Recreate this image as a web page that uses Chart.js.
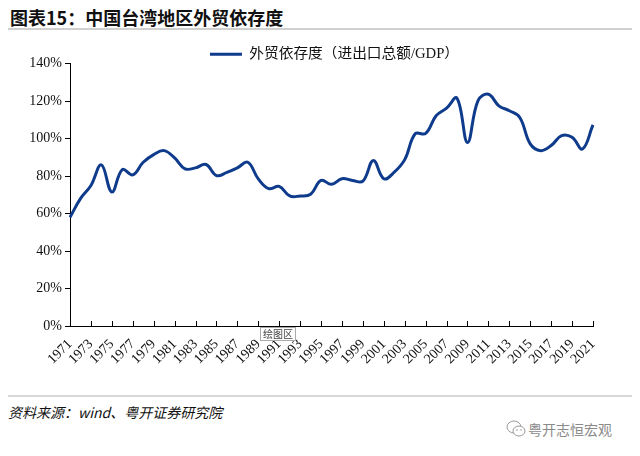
<!DOCTYPE html>
<html>
<head>
<meta charset="utf-8">
<script src="https://cdn.jsdelivr.net/npm/chart.js@4"></script>
<style>
  html, body { margin:0; padding:0; background:#fff; width:640px; height:456px; overflow:hidden; position:relative; }
  #title { position:absolute; left:10px; top:4px; font:bold 18px 'Noto Sans CJK SC', sans-serif; color:#111; letter-spacing:0px; }
  #tline { position:absolute; left:8px; right:8px; top:28px; height:2px; background:#d0d0d0; }
  #wrap { position:absolute; left:0; top:46px; width:640px; height:320px; }
  #fline { position:absolute; left:8px; right:8px; top:395px; height:2px; background:#d8d8d8; }
  #src { position:absolute; left:8px; top:402px; font:italic 14px 'Noto Sans CJK SC', sans-serif; color:#111; }
  #wm { position:absolute; left:528px; top:419px; font:14px 'Noto Sans CJK SC', sans-serif; color:#8a8a8a; }
  #wmi { position:absolute; left:506px; top:420px; }
  #tip { position:absolute; left:260px; top:327px; font:10px 'Noto Sans CJK SC', sans-serif; color:#444; background:#fff; border:1px solid #aaa; padding:0 2px; line-height:12px; }
</style>
</head>
<body>
<div id="title">图表15：中国台湾地区外贸依存度</div>
<div id="tline"></div>
<div id="wrap"><canvas id="c" width="640" height="320"></canvas></div>
<div id="tip">绘图区</div>
<div id="fline"></div>
<div id="src">资料来源：wind、粤开证券研究院</div>
<svg id="wmi" width="20" height="18" viewBox="0 0 20 18">
  <ellipse cx="8" cy="7" rx="7" ry="6" fill="none" stroke="#9a9a9a" stroke-width="1"/>
  <ellipse cx="13" cy="11" rx="6" ry="5" fill="#fff" stroke="#9a9a9a" stroke-width="1"/>
  <circle cx="11" cy="10" r="0.8" fill="#9a9a9a"/><circle cx="15" cy="10" r="0.8" fill="#9a9a9a"/>
</svg>
<div id="wm">粤开志恒宏观</div>
<script>
const years = ['1971','1972','1973','1974','1975','1976','1977','1978','1979','1980',
  '1981','1982','1983','1984','1985','1986','1987','1988','1989','1990',
  '1991','1992','1993','1994','1995','1996','1997','1998','1999','2000',
  '2001','2002','2003','2004','2005','2006','2007','2008','2009','2010',
  '2011','2012','2013','2014','2015','2016','2017','2018','2019','2020','2021'];
const tradeDependence = [58,68,75,86,71.5,83.5,80.7,87.4,91.5,93.6,
  89.7,83.9,84.4,86.2,80.3,82,84.4,87.4,78.5,73.3,
  74.5,69.4,69.4,70.3,77.7,75.6,78.6,77.7,77.3,88.3,
  78.6,82.1,88.8,102.6,102.8,112.2,116.3,121.6,98,120.2,
  123.7,117.5,114.9,111.3,97.2,93.6,96.3,101.6,100.7,94.5,107.3];
const seriesName = '外贸依存度（进出口总额/GDP）';
const yTicks = [0,20,40,60,80,100,120,140];

const blue = '#0f3b8c';
const fontFam = "'Liberation Serif','Noto Sans CJK SC', serif";

const innerTicks = {
  id: 'innerTicks',
  afterDraw(chart) {
    const x = chart.scales.x, ctx = chart.ctx;
    const yb = chart.chartArea.bottom;
    ctx.save();
    ctx.strokeStyle = '#000';
    ctx.lineWidth = 1;
    ctx.beginPath();
    for (let i = 0; i < years.length; i += 2) {
      const px = Math.round(x.getPixelForValue(i)) + 0.5;
      ctx.moveTo(px, yb);
      ctx.lineTo(px, yb - 5);
    }
    ctx.stroke();
    ctx.restore();
  }
};

const legendTweak = {
  id: 'legendTweak',
  beforeUpdate(chart) {
    const lg = chart.legend;
    if (lg && !lg._tw) {
      const f = lg.fit.bind(lg);
      lg.fit = function() { f(); this.height = Math.max(0, this.height - 8); };
      lg._tw = true;
    }
  },
  afterLayout(chart) {
    const lg = chart.legend;
    if (lg) { lg.left += 38; lg.right += 38; }
  }
};

new Chart(document.getElementById('c'), {
  type: 'line',
  data: {
    labels: years,
    datasets: [{
      label: seriesName,
      data: tradeDependence,
      borderColor: blue,
      backgroundColor: blue,
      borderWidth: 3,
      pointRadius: 0,
      tension: 0.4,
      fill: false
    }]
  },
  options: {
    responsive: false,
    animation: false,
    layout: { padding: { left: 0, right: 47, top: 0, bottom: 0 } },
    plugins: {
      legend: {
        position: 'top',
        labels: {
          font: { family: fontFam, size: 14.7 },
          color: '#111',
          boxWidth: 32,
          boxHeight: 3,
          padding: 1,
          generateLabels: (chart) => Chart.defaults.plugins.legend.labels.generateLabels(chart).map(l => Object.assign(l, { lineWidth: 0 }))
        }
      },
      tooltip: { enabled: false }
    },
    scales: {
      x: {
        type: 'category',
        offset: false,
        grid: { display: false },
        border: { display: true, color: '#000', width: 1 },
        ticks: {
          autoSkip: false,
          maxRotation: 45,
          minRotation: 45,
          padding: 2,
          color: '#111',
          font: { family: fontFam, size: 14 },
          callback: function(val, idx) { return idx % 2 === 0 ? this.getLabelForValue(val) : ''; }
        },
        afterFit: (s) => { s.height = 40; }
      },
      y: {
        min: 0, max: 140,
        afterBuildTicks: (s) => { s.ticks = yTicks.map(v => ({ value: v })); },
        grid: { drawOnChartArea: false, drawTicks: true, tickLength: 5, color: '#000' },
        border: { display: true, color: '#000', width: 1 },
        ticks: {
          padding: 3,
          color: '#111',
          font: { family: fontFam, size: 14 },
          callback: (v) => v + '%'
        },
        afterFit: (s) => { s.width = 70; }
      }
    }
  },
  plugins: [innerTicks, legendTweak]
});
</script>
</body>
</html>
